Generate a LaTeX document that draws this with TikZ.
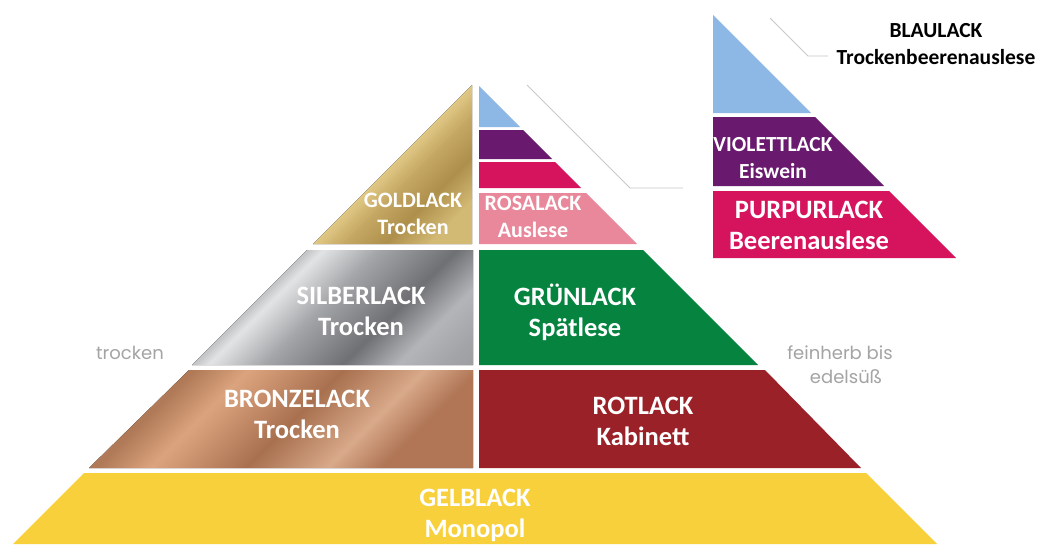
\documentclass[tikz,border=0pt]{standalone}
\usepackage{fontspec}
\setmainfont{Carlito}
\newfontfamily\grayfont{Poppins}
\definecolor{gA}{HTML}{B59A58}
\definecolor{gB}{HTML}{C0A45F}
\definecolor{gC}{HTML}{E4CD89}
\definecolor{gD}{HTML}{C4A763}
\definecolor{gE}{HTML}{AE904C}
\definecolor{gF}{HTML}{D2B974}
\definecolor{sA}{HTML}{8A8C8E}
\definecolor{sB}{HTML}{E2E3E4}
\definecolor{sC}{HTML}{A4A5A8}
\definecolor{sD}{HTML}{6E7073}
\definecolor{sE}{HTML}{B4B5B8}
\definecolor{bA}{HTML}{B07A58}
\definecolor{bB}{HTML}{DCA47E}
\definecolor{bC}{HTML}{A8704F}
\definecolor{bD}{HTML}{D8A98A}
\definecolor{bE}{HTML}{B07656}
\definecolor{blueL}{HTML}{8DB8E6}
\definecolor{violetL}{HTML}{6A1A6E}
\definecolor{magentaL}{HTML}{D6145E}
\definecolor{rosaL}{HTML}{E8889A}
\definecolor{greenL}{HTML}{05833F}
\definecolor{redL}{HTML}{9A2127}
\definecolor{yellowL}{HTML}{F7D03C}
\definecolor{leaderC}{HTML}{C8C8C8}
\definecolor{grayT}{HTML}{A4A4A4}
\pgfdeclarehorizontalshading{goldsh}{100bp}{color(0bp)=(gA); color(30bp)=(gA); color(40bp)=(gB); color(49bp)=(gC); color(57bp)=(gD); color(66bp)=(gE); color(76bp)=(gF); color(100bp)=(gF)}
\pgfdeclarehorizontalshading{silversh}{100bp}{color(0bp)=(sA); color(30bp)=(sA); color(38bp)=(sB); color(48bp)=(sC); color(62bp)=(sD); color(72bp)=(sE); color(80bp)=(sC); color(100bp)=(sA)}
\pgfdeclarehorizontalshading{bronzesh}{100bp}{color(0bp)=(bA); color(30bp)=(bA); color(38bp)=(bB); color(52bp)=(bC); color(64bp)=(bD); color(72bp)=(bE); color(100bp)=(bE)}
\begin{document}
\begin{tikzpicture}[x=1pt,y=-1pt,
  lbl/.style={text=white, align=center, inner sep=0pt},
  small/.style={font=\fontsize{22}{27}\selectfont\bfseries},
  mid/.style={font=\fontsize{21.5}{27}\selectfont\bfseries},
  big/.style={font=\fontsize{26.5}{31}\selectfont\bfseries},
  side/.style={text=grayT, align=center, inner sep=0pt, font=\grayfont\fontsize{18}{24}\selectfont},
  leader/.style={draw=leaderC, line width=0.9pt}]
\useasboundingbox (0,0) rectangle (1038,544);
\fill[white] (0,0) rectangle (1038,544);
% main pyramid, left half
\fill[shading=goldsh, shading angle=-45] (472,85) -- (472,244) -- (313,244) -- cycle;
\fill[shading=silversh, shading angle=-45] (307,250) -- (473,250) -- (473,365) -- (192,365) -- cycle;
\fill[shading=bronzesh, shading angle=-45] (189,370) -- (473,370) -- (473,468) -- (89,468) -- cycle;
% main pyramid, right half
\fill[blueL] (479,86) -- (520,127) -- (479,127) -- cycle;
\fill[violetL] (479,130) -- (523,130) -- (552,159) -- (479,159) -- cycle;
\fill[magentaL] (479,162) -- (555,162) -- (581,188) -- (479,188) -- cycle;
\fill[rosaL] (479,193) -- (586,193) -- (637,244) -- (479,244) -- cycle;
\fill[greenL] (479,250) -- (643,250) -- (758,365) -- (479,365) -- cycle;
\fill[redL] (479,370) -- (765,370) -- (861,468) -- (479,468) -- cycle;
\fill[yellowL] (84,473) -- (866,473) -- (937,544) -- (13,544) -- cycle;
% enlarged top
\fill[blueL] (713,15) -- (811,113) -- (713,113) -- cycle;
\fill[violetL] (713,117) -- (815,117) -- (884,186) -- (713,186) -- cycle;
\fill[magentaL] (713,191) -- (889,191) -- (956,258) -- (713,258) -- cycle;
% leader lines
\coordinate (l1a) at (527,85);
\coordinate (l1b) at (630,188);
\coordinate (l1c) at (683,188);
\coordinate (l2a) at (770,18);
\coordinate (l2b) at (808,56);
\coordinate (l2c) at (828,56);
\draw[leader] (l1a) -- (l1b) -- (l1c);
\draw[leader] (l2a) -- (l2b) -- (l2c);
% labels
\node[lbl, small] (gold) at (413,214) {GOLDLACK\\Trocken};
\node[lbl, small] (rosa) at (533,217) {ROSALACK\\Auslese};
\node[lbl, big] (silber) at (361,311) {SILBERLACK\\Trocken};
\node[lbl, big] (gruen) at (575,312) {GRÜNLACK\\Spätlese};
\node[lbl, big] (bronze) at (297,414) {BRONZELACK\\Trocken};
\node[lbl, big] (rot) at (643,421) {ROTLACK\\Kabinett};
\node[lbl, big] (gelb) at (475,515) {GELBLACK\\Monopol};
\node[lbl, mid] (violett) at (773,158) {VIOLETTLACK\\Eiswein};
\node[lbl, big] (purpur) at (809,225) {PURPURLACK\\Beerenauslese};
\node[lbl, mid, text=black] (blau) at (936,44) {BLAULACK\\Trockenbeerenauslese};
\node[side] (trocken) at (130,353) {trocken};
\node[side] (feinherb) at (840,365) {feinherb bis\\\hspace*{12pt}edelsüß};
\end{tikzpicture}
\end{document}
